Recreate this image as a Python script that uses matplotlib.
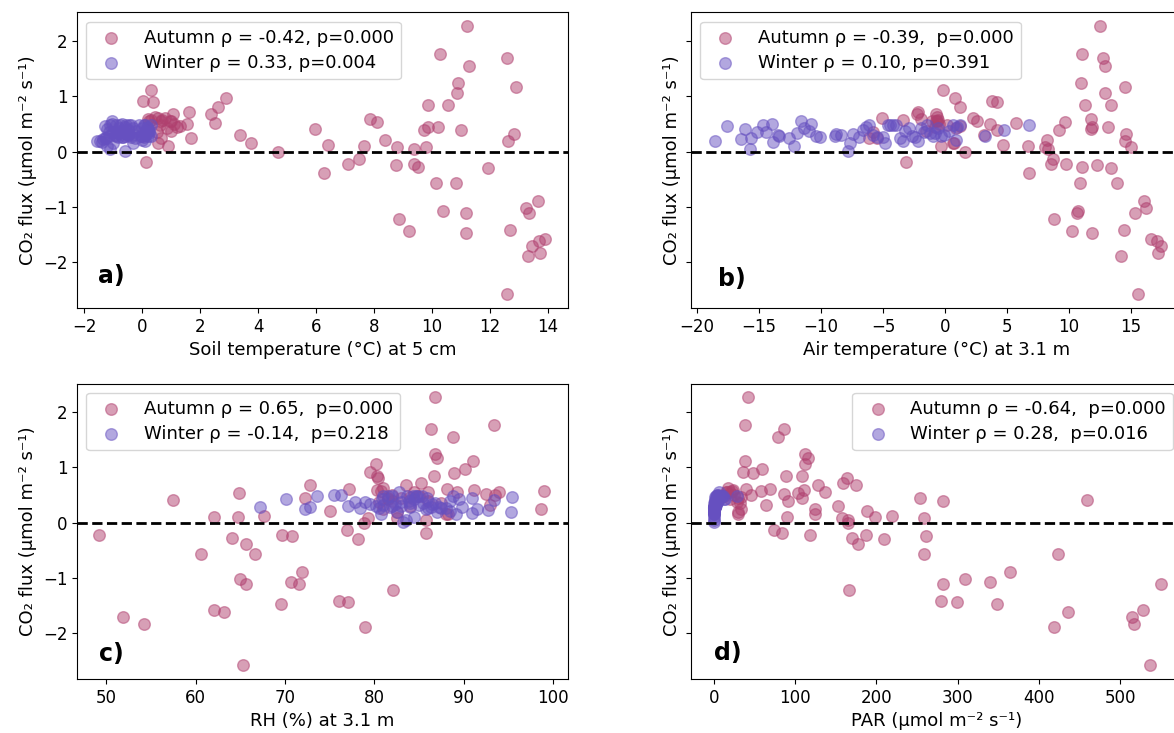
import matplotlib
matplotlib.use('Agg')
import matplotlib.pyplot as plt

# CO2 flux (umol m-2 s-1) and drivers
autumn_flux = [2.28, 1.77, 1.69, 1.56, 1.25, 1.18, 1.12, 1.07, 0.97, 0.91,
               0.90, 0.84, 0.84, 0.81, 0.71, 0.68, 0.68, 0.60, 0.53, 0.52,
               0.61, 0.61, 0.58, 0.55, 0.50, 0.55, 0.45, 0.44, 0.41, 0.40,
               0.40, 0.30, 0.32, 0.24, 0.21, 0.19, 0.16, 0.13, 0.11, 0.11,
               0.09, 0.08, 0.04, 0.00, -0.14, -0.19, -0.22, -0.23, -0.24, -0.28,
               -0.30, -0.39, -0.57, -0.57, -0.89, -1.02, -1.08, -1.11, -1.11, -1.21,
               -1.41, -1.43, -1.47, -1.58, -1.61, -1.71, -1.83, -1.89, -2.58,
               0.62, 0.58, 0.55, 0.50, 0.48, 0.45, 0.42, 0.38, 0.35, 0.55,
               0.47, 0.60, 0.25, 0.15]
autumn_soil = [11.20, 10.29, 12.58, 11.29, 10.90, 12.91, 0.32, 10.87, 2.88, 0.03,
               0.39, 9.87, 10.55, 2.61, 1.60, 2.39, 1.05, 7.86, 8.12, 2.52,
               0.55, 0.80, 0.30, 1.00, 1.55, 0.65, 9.88, 10.20, 5.98, 9.72,
               11.00, 3.36, 12.82, 1.67, 8.38, 12.64, 3.75, 6.42, 7.66, 0.88,
               9.81, 8.78, 9.39, 4.68, 7.49, 0.12, 9.39, 7.10, 8.77, 9.53,
               11.95, 6.28, 10.14, 10.82, 13.68, 13.25, 10.40, 11.17, 13.34, 8.85,
               12.71, 9.20, 11.17, 13.91, 13.69, 13.46, 13.74, 13.33, 12.59,
               0.45, 0.70, 0.95, 1.10, 0.60, 1.20, 0.85, 1.00, 0.50, 0.25,
               1.30, 0.20, 0.65, 0.55]
autumn_air = [12.55, 11.04, 12.79, 12.94, 10.98, 14.53, -0.12, 12.91, 0.81, 3.82,
              4.21, 11.31, 13.42, 1.20, -2.14, -2.26, -0.70, 11.77, 9.69, 5.78,
              -5.09, 2.26, -3.34, 2.56, 3.61, -0.60, 11.86, 13.18, 11.80, 9.21,
              4.18, 3.16, 14.66, -6.10, 8.22, 14.53, 0.69, 4.69, 6.71, -0.33,
              15.02, 8.10, 8.30, 1.66, 8.70, -3.13, 9.75, 8.58, 12.28, 11.04,
              13.39, 6.77, 10.89, 13.93, 16.07, 16.22, 10.74, 10.71, 15.38, 8.79,
              14.44, 10.29, 11.89, 16.64, 17.12, 17.42, 17.24, 14.26, 15.56,
              -0.65, -0.55, -0.75, -0.50, 0.20, -0.80, 0.90, -1.50, -5.80, -1.00,
              1.20, -1.90, -5.50, 0.70]
autumn_rh = [86.8, 93.4, 86.3, 88.8, 86.8, 87.05, 91.1, 80.2, 90.2, 79.5,
             88.9, 86.7, 80.3, 80.4, 85.2, 72.75, 83.5, 91.2, 64.8, 92.5,
             77.2, 88.2, 99.0, 89.3, 93.5, 93.95, 72.2, 81.5, 57.4, 86.0,
             82.0, 84.0, 93.0, 98.7, 75.0, 82.5, 88.0, 67.7, 62.0, 64.7,
             79.3, 82.5, 85.8, 78.8, 77.0, 85.8, 49.2, 69.7, 70.8, 64.1,
             78.2, 65.6, 60.6, 66.6, 71.9, 65.0, 70.7, 65.6, 71.6, 82.1,
             76.1, 77.1, 69.5, 62.1, 63.2, 51.8, 54.2, 79.0, 65.3,
             81.0, 80.8, 84.5, 82.0, 85.0, 83.0, 81.5, 80.5, 87.5, 86.0,
             84.0, 80.3, 81.0, 88.3]
autumn_par = [42, 38.6, 87, 79, 111.7, 116, 38.6, 112.6, 59.7, 35.8,
              47.8, 88.7, 108, 163.6, 159.5, 174.6, 128, 111, 104, 85.9,
              68.9, 40, 58.4, 136.5, 46.4, 20, 108.9, 253.7, 459.6, 281.7,
              91.5, 152.6, 63.9, 124, 188, 30, 125, 219, 198, 90.5,
              258.3, 158, 165, 165, 73.5, 83.6, 119, 187.5, 261, 170,
              209.6, 176.9, 259.2, 423.2, 364.9, 309.3, 339.2, 282.6, 550.6, 165.9,
              279, 298.7, 347.9, 528.5, 435.2, 514.2, 516.5, 419.1, 537.2,
              18, 22, 15, 25, 12, 30, 20, 28, 32, 16,
              33, 24, 34, 30]

winter_flux = [0.19, 0.46, 0.23, 0.41, 0.04, 0.25, 0.35, 0.48, 0.35, 0.50,
               0.17, 0.31, 0.28, 0.25, 0.10, 0.34, 0.56, 0.42, 0.38, 0.51,
               0.29, 0.26, 0.28, 0.32, 0.30, 0.02, 0.16, 0.32, 0.27, 0.40,
               0.45, 0.48, 0.31, 0.26, 0.26, 0.16, 0.49, 0.49, 0.48, 0.49,
               0.25, 0.19, 0.37, 0.43, 0.28, 0.27, 0.19, 0.43, 0.35, 0.49,
               0.33, 0.28, 0.34, 0.43, 0.28, 0.31, 0.37, 0.48, 0.45, 0.48,
               0.22, 0.28, 0.40, 0.48]
winter_soil = [-1.45, -1.30, -1.35, -1.20, -1.10, -1.25, -1.15, -1.10, -1.00, -1.05,
               -1.40, -0.95, -0.90, -1.30, -1.20, -0.85, -1.05, -0.80, -0.75, -0.70,
               -1.15, -0.65, -0.60, -0.55, -0.50, -0.60, -1.00, -0.45, -0.40, -0.50,
               -0.60, -0.45, -0.35, -0.85, -0.70, -0.30, -0.55, -0.40, -0.90, -0.75,
               -0.25, -1.55, -0.20, -0.30, 0.00, 0.05, 0.10, 0.00, 0.10, 0.05,
               0.15, 0.20, 0.25, 0.20, -0.05, 0.10, 0.25, 0.30, 0.15, -0.10,
               0.00, 0.30, 0.20, 0.10]
winter_air = [-18.6, -17.57, -16.49, -16.13, -15.74, -15.62, -15.14, -14.72, -14.47, -13.99,
              -13.84, -13.51, -13.39, -12.61, -12.19, -11.98, -11.59, -11.38, -11.01, -10.8,
              -10.41, -10.05, -8.85, -8.76, -8.37, -7.85, -7.7, -7.4, -6.95, -6.65,
              -6.35, -6.1, -5.81, -5.45, -5.0, -4.85, -4.63, -4.45, -4.18, -3.94,
              -3.64, -3.4, -3.19, -2.89, -2.68, -2.44, -2.14, -1.93, -1.69, -1.44,
              -1.23, -0.99, -0.78, -0.57, -0.33, -0.03, 0.33, 0.63, 1.02, 1.23,
              0.87, 3.28, 4.78, 6.83]
winter_rh = [95.3, 95.4, 92.7, 93.4, 83.5, 91.5, 84.0, 73.6, 85.5, 75.5,
             91.0, 77.1, 67.2, 72.2, 84.5, 86.5, 82.8, 70.06, 77.8, 76.3,
             72.8, 78.4, 89.8, 81.0, 83.0, 83.2, 89.2, 85.0, 87.5, 88.5,
             90.9, 84.3, 82.0, 80.5, 86.0, 80.8, 84.8, 81.0, 88.8, 83.7,
             85.8, 87.0, 79.0, 84.5, 81.8, 88.0, 82.5, 80.9, 86.8, 85.3,
             79.5, 84.0, 82.3, 89.5, 87.3, 80.2, 83.0, 81.5, 85.9, 82.0,
             88.5, 86.3, 83.9, 84.7]
winter_par = [0.5, 1.2, 0.3, 2.0, 0.1, 0.8, 1.5, 3.5, 0.6, 4.0,
              0.2, 1.0, 0.7, 0.4, 0.2, 1.8, 6.0, 2.5, 1.3, 5.0,
              0.9, 0.5, 0.8, 2.2, 1.1, 0.0, 0.3, 1.6, 0.9, 3.0,
              4.5, 7.5, 1.2, 0.6, 0.7, 0.2, 8.5, 5.5, 3.2, 10.0,
              0.5, 0.3, 2.8, 6.5, 1.0, 0.8, 0.4, 12.0, 2.0, 28.5,
              1.5, 0.9, 2.4, 14.0, 1.1, 1.9, 3.8, 9.0, 4.2, 6.8,
              0.6, 1.3, 5.2, 11.0]

xlabels = ['Soil temperature (°C) at 5 cm', 'Air temperature (°C) at 3.1 m',
           'RH (%) at 3.1 m', 'PAR (µmol m⁻² s⁻¹)']
autumn_labels = ['Autumn ρ = -0.42, p=0.000', 'Autumn ρ = -0.39,  p=0.000',
                 'Autumn ρ = 0.65,  p=0.000', 'Autumn ρ = -0.64,  p=0.000']
winter_labels = ['Winter ρ = 0.33, p=0.004', 'Winter ρ = 0.10, p=0.391',
                 'Winter ρ = -0.14,  p=0.218', 'Winter ρ = 0.28,  p=0.016']
panel_tags = ['a)', 'b)', 'c)', 'd)']

autumn_x = [autumn_soil, autumn_air, autumn_rh, autumn_par]
winter_x = [winter_soil, winter_air, winter_rh, winter_par]

autumn_color = '#b0406f'
winter_color = '#6650c0'

plt.rcParams['font.size'] = 12

W, H = 1174, 733
fig, axes = plt.subplots(2, 2, sharey=True, figsize=(W / 100, H / 100), dpi=100)
axes = axes.ravel()

# axes boxes in pixels (left, top) -- right column is clipped at the image edge
boxes = [(77, 12.5), (691, 12.5), (77, 383.5), (691, 383.5)]
aw, ah = 491, 295.5
xlims = [(-2.25, 14.7), (-20.5, 19.15), (46.7, 101.7), (-28, 576)]
xticks = [range(-2, 15, 2), range(-20, 16, 5), range(50, 101, 10), range(0, 501, 100)]
tag_pos = [(0.043, 0.085), (0.055, 0.075), (0.045, 0.06), (0.047, 0.063)]
legend_loc = ['upper left', 'upper left', 'upper left', 'upper right']

for i, ax in enumerate(axes):
    l, t = boxes[i]
    ax.set_position([l / W, 1 - (t + ah) / H, aw / W, ah / H])
    ax.scatter(autumn_x[i], autumn_flux, s=70, color=autumn_color, alpha=0.5,
               label=autumn_labels[i])
    ax.scatter(winter_x[i], winter_flux, s=70, color=winter_color, alpha=0.5,
               label=winter_labels[i])
    ax.axhline(0, color='k', ls='--', lw=2)
    ax.set_xlim(*xlims[i])
    ax.set_xticks(list(xticks[i]))
    ax.set_ylim(-2.83, 2.52)
    ax.set_xlabel(xlabels[i], fontsize=13)
    ax.set_ylabel('CO₂ flux (µmol m⁻² s⁻¹)', fontsize=13)
    ax.legend(loc=legend_loc[i], fontsize=13, labelspacing=0.4)
    ax.text(tag_pos[i][0], tag_pos[i][1], panel_tags[i], transform=ax.transAxes,
            fontsize=17, fontweight='bold')

axes[0].set_yticks([-2, -1, 0, 1, 2])

plt.savefig('out.png', dpi=100)
